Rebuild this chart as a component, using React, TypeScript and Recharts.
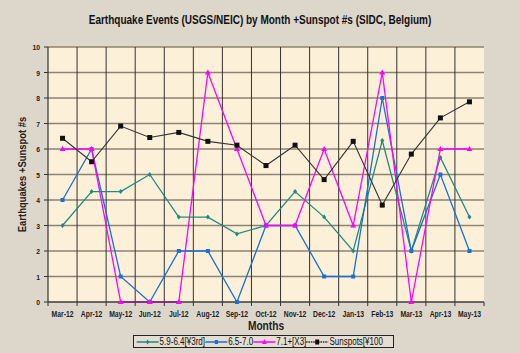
import React from 'react';
import { LineChart, Line, XAxis, YAxis, CartesianGrid } from 'recharts';

const months = ['Mar-12', 'Apr-12', 'May-12', 'Jun-12', 'Jul-12', 'Aug-12', 'Sep-12', 'Oct-12', 'Nov-12', 'Dec-12', 'Jan-13', 'Feb-13', 'Mar-13', 'Apr-13', 'May-13'];
const mag59 = [3, 4.33, 4.33, 5, 3.33, 3.33, 2.67, 3, 4.33, 3.33, 2, 6.33, 2, 5.67, 3.33];
const mag65 = [4, 6, 1, 0, 2, 2, 0, 3, 3, 1, 1, 8, 2, 5, 2];
const mag71 = [6, 6, 0, 0, 0, 9, 6, 3, 3, 6, 3, 9, 0, 6, 6];
const sunspots = [6.42, 5.5, 6.9, 6.45, 6.65, 6.3, 6.15, 5.35, 6.15, 4.8, 6.3, 3.8, 5.8, 7.22, 7.85];
const yTicks = [0, 1, 2, 3, 4, 5, 6, 7, 8, 9, 10];

const data = months.map((m, i) => ({
  month: m,
  mag59: mag59[i],
  mag65: mag65[i],
  mag71: mag71[i],
  sunspots: sunspots[i],
}));

const W = 520;
const H = 353;
const margin = { top: 47, right: 36, bottom: 31, left: 18 };
const yAxisW = 30;
const xAxisH = 20;
const plotW = W - margin.left - margin.right - yAxisW;
const step = plotW / months.length;

const font = '"Liberation Sans", Arial, sans-serif';

const MonthTick = (props: any) => {
  const { x, y, payload, index } = props;
  return (
    <g>
      <line x1={x - step / 2} x2={x - step / 2} y1={y - 8} y2={y - 4} stroke="#333" />
      {index === months.length - 1 && (
        <line x1={x + step / 2} x2={x + step / 2} y1={y - 8} y2={y - 4} stroke="#333" />
      )}
      <text
        transform={`translate(${x},${y + 7}) scale(0.8,1)`}
        textAnchor="middle"
        fontSize={8.5}
        fontWeight="bold"
        fontFamily={font}
        fill="#222"
      >
        {payload.value}
      </text>
    </g>
  );
};

const YTick = (props: any) => {
  const { x, y, payload } = props;
  return (
    <text transform={`translate(${x - 2},${y + 3}) scale(0.85,1)`} textAnchor="end" fontSize={8} fontWeight="bold" fontFamily={font} fill="#222">
      {payload.value}
    </text>
  );
};

const YLabel = (props: any) => {
  const { viewBox } = props;
  const cy = viewBox.y + viewBox.height / 2;
  return (
    <text
      transform={`translate(26,${cy}) rotate(-90) scale(0.82,1)`}
      textAnchor="middle"
      fontSize={11.5}
      fontWeight="bold"
      fontFamily={font}
      fill="#222"
    >
      Earthquakes +Sunspot #s
    </text>
  );
};

const XLabel = (props: any) => {
  const { viewBox } = props;
  const cx = viewBox.x + viewBox.width / 2;
  return (
    <text transform={`translate(${cx},${330}) scale(0.85,1)`} textAnchor="middle" fontSize={12} fontWeight="bold" fontFamily={font} fill="#222">
      Months
    </text>
  );
};

const GreenDot = (props: any) => {
  const { cx, cy } = props;
  return <path d={`M${cx},${cy - 2.5}L${cx + 2},${cy}L${cx},${cy + 2.5}L${cx - 2},${cy}Z`} fill="#1f8a80" />;
};
const BlueDot = (props: any) => {
  const { cx, cy } = props;
  return <rect x={cx - 2} y={cy - 2} width={4} height={4} fill="#1a6fd6" />;
};
const PinkDot = (props: any) => {
  const { cx, cy } = props;
  return <path d={`M${cx},${cy - 3}L${cx + 3},${cy + 2}L${cx - 3},${cy + 2}Z`} fill="#ff00ff" />;
};
const BlackDot = (props: any) => {
  const { cx, cy } = props;
  return <rect x={cx - 2.5} y={cy - 2.5} width={5} height={5} fill="#111" />;
};

const legendItems = [
  { label: '5.9-6.4[¥3rd]', color: '#1f8a80', marker: 'diamond' },
  { label: '6.5-7.0', color: '#1a6fd6', marker: 'square' },
  { label: '7.1+[X3]', color: '#ff00ff', marker: 'triangle' },
  { label: 'Sunspots[¥100', color: '#333', marker: 'bigsquare' },
];

const LegendMarker = ({ color, marker }: { color: string; marker: string }) => (
  <svg width={28} height={8} style={{ verticalAlign: 'middle', marginRight: 1 }}>
    <line x1={0} x2={28} y1={4} y2={4} stroke={color} strokeWidth={1.5} strokeDasharray={marker === 'bigsquare' ? '2 1' : undefined} />
    {marker === 'diamond' && <path d="M14,1.5L16,4L14,6.5L12,4Z" fill={color} />}
    {marker === 'square' && <rect x={12} y={2} width={4} height={4} fill={color} />}
    {marker === 'triangle' && <path d="M14,1L17,6L11,6Z" fill={color} />}
    {marker === 'bigsquare' && <rect x={11.5} y={1.5} width={5} height={5} fill="#111" />}
  </svg>
);

const App: React.FC = () => {
  return (
    <div style={{ position: 'absolute', left: 0, top: 0, width: W, height: H, background: '#ddd6ca', fontFamily: font }}>
      <div
        style={{
          position: 'absolute',
          left: 0,
          top: 13,
          width: W,
          textAlign: 'center',
          fontSize: 12.5,
          fontWeight: 'bold',
          color: '#111',
          transform: 'scaleX(0.8)',
          transformOrigin: '260px 0',
        }}
      >
        Earthquake Events (USGS/NEIC) by Month +Sunspot #s (SIDC, Belgium)
      </div>
      <LineChart width={W} height={H} data={data} margin={margin}>
        <CartesianGrid vertical={false} stroke="#8d8375" strokeWidth={1.6} fill="#fdf0d8" strokeOpacity={1} />
        <CartesianGrid
          horizontal={false}
          stroke="#333"
          strokeWidth={1}
          verticalCoordinatesGenerator={({ offset }: any) =>
            months.map((_, i) => offset.left + (i + 1) * (offset.width / months.length)).slice(0, -1)
          }
        />
        <XAxis
          dataKey="month"
          height={xAxisH}
          interval={0}
          padding={{ left: step / 2, right: step / 2 }}
          tickLine={false}
          axisLine={{ stroke: '#333', strokeWidth: 1.2 }}
          tick={<MonthTick />}
          label={<XLabel />}
        />
        <YAxis
          width={yAxisW}
          domain={[0, 10]}
          ticks={yTicks}
          interval={0}
          tickSize={4}
          tickLine={{ stroke: '#333' }}
          axisLine={{ stroke: '#333', strokeWidth: 1.2 }}
          tick={<YTick />}
          label={<YLabel />}
        />
        <Line dataKey="mag59" stroke="#1f8a80" strokeWidth={1.3} dot={<GreenDot />} activeDot={false} isAnimationActive={false} />
        <Line dataKey="mag65" stroke="#1a6fd6" strokeWidth={1.3} dot={<BlueDot />} activeDot={false} isAnimationActive={false} />
        <Line dataKey="mag71" stroke="#ff00ff" strokeWidth={1.3} dot={<PinkDot />} activeDot={false} isAnimationActive={false} />
        <Line dataKey="sunspots" stroke="#333" strokeWidth={1.1} dot={<BlackDot />} activeDot={false} isAnimationActive={false} />
      </LineChart>
      <div
        style={{
          position: 'absolute',
          left: 133,
          top: 335,
          width: 261,
          height: 13,
          border: '1px solid #222',
          overflow: 'hidden',
          whiteSpace: 'nowrap',
          boxSizing: 'border-box',
          background: '#e4ddd2',
        }}
      >
        <div
          style={{
            fontSize: 10,
            lineHeight: '11px',
            color: '#111',
            paddingLeft: 3,
            transform: 'scaleX(0.8)',
            transformOrigin: '0 0',
            width: 330,
          }}
        >
          {legendItems.map((it) => (
            <span key={it.label}>
              <LegendMarker color={it.color} marker={it.marker} />
              {it.label}
            </span>
          ))}
        </div>
      </div>
    </div>
  );
};

export default App;
